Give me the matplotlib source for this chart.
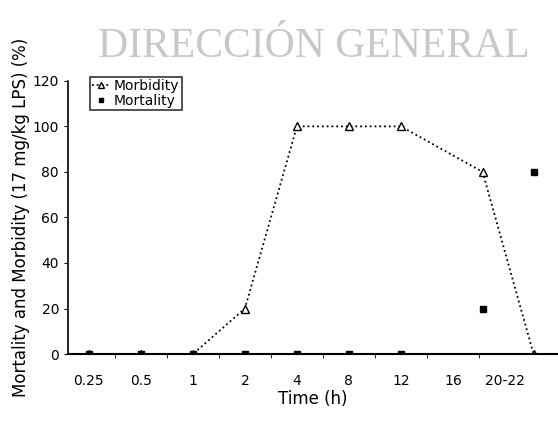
import numpy as np
import matplotlib.pyplot as plt

# data
labels = ['0.25', '0.5', '1', '2', '4', '8', '12', '16', '20-22']
tick_pos = np.arange(len(labels))
x_data = [0, 1, 2, 3, 4, 5, 6, 7.57, 8.55]
morbidity = [0, 0, 0, 20, 100, 100, 100, 80, 0]
mortality = [0, 0, 0, 0, 0, 0, 0, 20, 80]

fig = plt.figure(figsize=(5.58, 4.21), dpi=100)
ax = fig.add_axes([0.122, 0.159, 0.878, 0.649])

ax.plot(x_data, morbidity, ':', color='black', lw=1.3, marker='^', ms=6,
        mfc='white', mec='black', label='Morbidity')
ax.plot(x_data, mortality, 's', color='black', ms=4, ls='none', label='Mortality')

ax.set_xlim(-0.4, 9.02)
ax.set_ylim(0, 120)
ax.set_yticks(np.arange(0, 121, 20))
ax.set_xticks(tick_pos)
ax.set_xticklabels(labels)
ax.set_xticks(tick_pos[:-1] + 0.5, minor=True)
ax.tick_params(axis='x', which='major', length=0, pad=14, labelsize=10)
ax.tick_params(axis='x', which='minor', length=3)
ax.tick_params(axis='y', length=3, labelsize=10)
for s in ['top', 'right']:
    ax.spines[s].set_visible(False)
ax.spines['left'].set_linewidth(1.2)
ax.spines['bottom'].set_linewidth(1.5)

ax.set_xlabel('Time (h)', fontsize=12, labelpad=2)
ax.set_ylabel('Mortality and Morbidity (17 mg/kg LPS) (%)', fontsize=12, labelpad=2)

leg = ax.legend(loc='upper left', bbox_to_anchor=(0.03, 1.04), fontsize=10,
                frameon=True, fancybox=False, edgecolor='black', borderpad=0.15,
                labelspacing=0.05, handlelength=1.3, handletextpad=0.3,
                markerscale=0.8)
leg.get_frame().set_linewidth(1.2)

fig.text(0.175, 0.89, 'DIRECCIÓN GENERAL', fontsize=30, family='Liberation Serif',
         color='#c8c8c8', va='center', ha='left', zorder=0)

fig.savefig('out.png', dpi=100)
